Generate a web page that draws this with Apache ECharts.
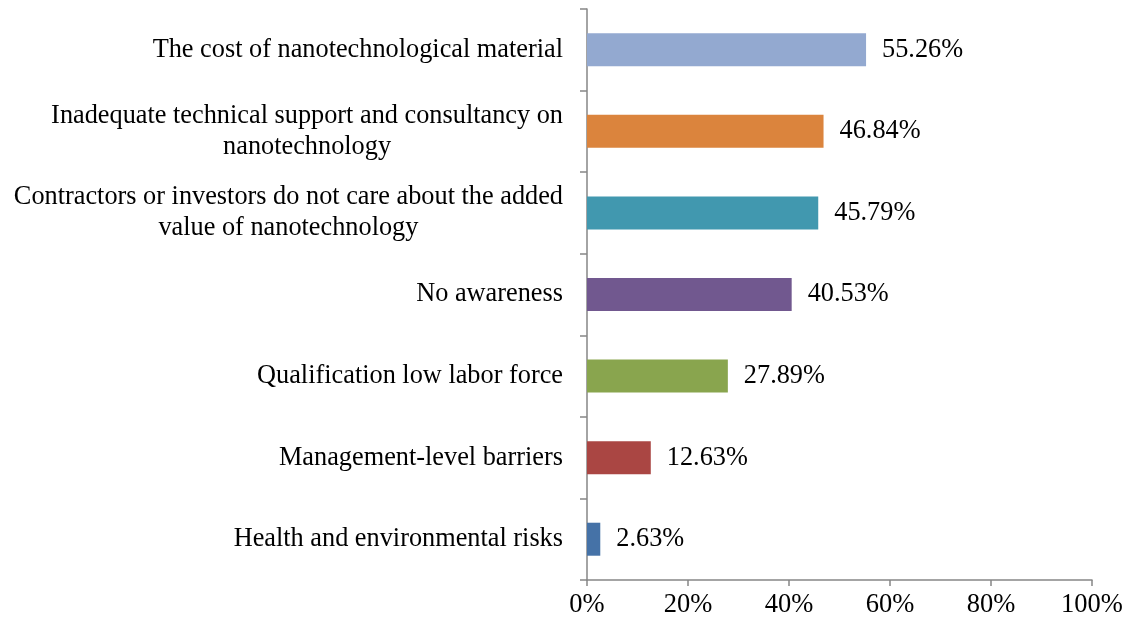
<!DOCTYPE html>
<html>
<head>
<meta charset="utf-8">
<script src="https://cdn.jsdelivr.net/npm/echarts@6/dist/echarts.min.js"></script>
<style>
html, body { margin: 0; padding: 0; background: #fff; }
#chart { width: 1130px; height: 625px; }
</style>
</head>
<body>
<div id="chart"></div>
<script>
// bottom to top, as ECharts category axis runs upward
const categories = [
    'Health and environmental risks',
    'Management-level barriers',
    'Qualification low labor force',
    'No awareness',
    'Contractors or investors do not care about the added\nvalue of nanotechnology',
    'Inadequate technical support and consultancy on\nnanotechnology',
    'The cost of nanotechnological material'
];
const values = [2.63, 12.63, 27.89, 40.53, 45.79, 46.84, 55.26];
const colors = ['#4572a7', '#aa4643', '#89a54e', '#71588f', '#4198af', '#db843d', '#93a9d0'];
const xTicks = [0, 20, 40, 60, 80, 100];

const font = 'Liberation Serif';
const chart = echarts.init(document.getElementById('chart'));

const option = {
    animation: false,
    grid: { left: 587, right: 38, top: 9, bottom: 45 },
    xAxis: {
        type: 'value',
        min: xTicks[0],
        max: xTicks[xTicks.length - 1],
        interval: 20,
        axisLine: { show: true, lineStyle: { color: '#868686', width: 1.5 } },
        axisTick: { show: true, length: 6, lineStyle: { color: '#868686', width: 1.5 } },
        splitLine: { show: false },
        axisLabel: {
            formatter: v => v + '%',
            fontFamily: font, fontSize: 26.5, color: '#000', margin: 12
        }
    },
    yAxis: {
        type: 'category',
        data: categories,
        axisLine: { lineStyle: { color: '#868686', width: 1.5 } },
        axisTick: { show: true, length: 7, lineStyle: { color: '#868686', width: 1.5 } },
        axisLabel: {
            margin: 24,
            formatter: v => v.split('\n').map(s => '{c|' + s + '}').join('\n'),
            rich: {
                c: { fontFamily: font, fontSize: 26.3, color: '#000', align: 'center', lineHeight: 31 }
            }
        }
    },
    series: [{
        type: 'bar',
        barWidth: 33,
        data: values.map((v, i) => ({ value: v, itemStyle: { color: colors[i] } })),
        label: {
            show: true,
            position: 'right',
            distance: 16,
            formatter: p => p.value.toFixed(2) + '%',
            fontFamily: font, fontSize: 26.3, color: '#000'
        }
    }]
};
chart.setOption(option);
</script>
</body>
</html>
